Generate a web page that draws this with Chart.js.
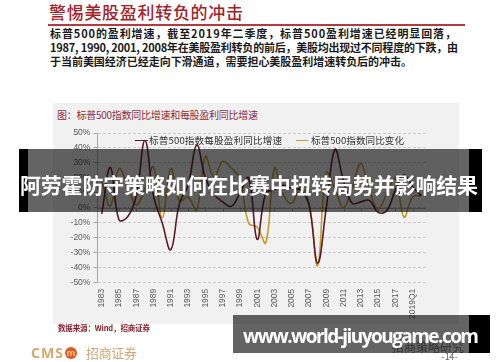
<!DOCTYPE html>
<html>
<head>
<meta charset="utf-8">
<script src="https://cdn.jsdelivr.net/npm/chart.js@4.4.0/dist/chart.umd.min.js"></script>
<style>
  body { margin: 0; background: #fff; }
  #page { position: relative; width: 500px; height: 362px; overflow: hidden; font-family: "Noto Sans CJK SC", sans-serif; }
  .abs { position: absolute; white-space: nowrap; }
  #panel { position: absolute; left: 53px; top: 103px; width: 406px; height: 221px; background: #f1f1f1; }
  #chart { position: absolute; left: 53px; top: 103px; width: 406px; height: 222px; }
  .body { font-size: 11px; font-weight: 700; color: #1a1a1a; line-height: 14px; }
  .leg { font-size: 9.6px; color: #333; line-height: 12px; }
  .band { position: absolute; background: rgba(12, 12, 12, 0.64); }
  .blk { position: absolute; background: #000; }
</style>
</head>
<body>
<div id="page">
  <!-- slide header -->
  <div class="abs" id="title" data-w="194" style="left:49px; top:0px; font-size:17px; line-height:24px; color:#a3232b; font-weight:500;">警惕美股盈利转负的冲击</div>
  <div class="abs" style="left:48px; top:23.5px; width:417px; height:2px; background:#b53a3f;"></div>
  <div class="abs body" data-w="406" style="left:50px; top:26px;">标普500的盈利增速，截至2019年二季度，标普500盈利增速已经明显回落，</div>
  <div class="abs body" data-w="408" style="left:50px; top:40px;">1987, 1990, 2001, 2008年在美股盈利转负的前后，美股均出现过不同程度的下跌，由</div>
  <div class="abs body" data-w="362" style="left:50px; top:54px;">于当前美国经济已经走向下滑通道，需要担心美股盈利增速转负后的冲击。</div>

  <!-- chart panel -->
  <div id="panel"></div>
  <div class="abs" data-w="201" style="left:57px; top:109px; font-size:10px; line-height:12px; color:#8e2d3a;">图：标普500指数同比增速和每股盈利同比增速</div>
  <canvas id="chart" width="406" height="222"></canvas>
  <div class="abs" style="left:135px; top:139.5px; width:13px; height:1.6px; background:#5a1a28;"></div>
  <div class="abs leg" data-w="133" style="left:149px; top:134px;">标普500指数每股盈利同比增速</div>
  <div class="abs" style="left:296px; top:139.5px; width:12px; height:1.6px; background:#c29a30;"></div>
  <div class="abs leg" data-w="93" style="left:311px; top:134px;">标普500指数同比变化</div>
  <div class="abs" data-w="92" style="left:58px; top:323px; font-size:7.5px; line-height:10px; font-weight:700; color:#8b1e2a;">数据来源：Wind，招商证券</div>

  <!-- footer -->
  <div class="abs" data-w="32" style="left:31px; top:344px; font-family:'Open Sans'; font-size:14px; line-height:17px; font-weight:700; color:#d9a86c;">CMS</div>
  <div class="abs" style="left:65px; top:346.5px; width:12px; height:12px; border-radius:50%; background:#e0582a; color:#f7c56e; font:700 9px/12px 'Open Sans'; text-align:center;">m</div>
  <div class="abs" data-w="51" style="left:86px; top:344px; font-size:13px; line-height:17px; color:#d4a673;">招商证券</div>
  <div class="abs" style="left:392px; top:340px; font-size:12px; line-height:14px; color:#777;">招商策略研究</div>
  <div class="abs" data-w="17" style="left:441px; top:351px; font-size:9px; line-height:12px; color:#666;">- 14 -</div>

  <!-- overlay banners -->
  <div class="band" style="left:28px; top:149px; width:441px; height:63px;"></div>
  <div class="blk" style="left:19px; top:149px; width:9px; height:63px;"></div>
  <div class="blk" style="left:469px; top:149px; width:13px; height:63px;"></div>
  <div class="abs" data-w="458" style="left:20px; top:169px; font-size:21px; line-height:30px; font-weight:700; color:#fff;">阿劳霍防守策略如何在比赛中扭转局势并影响结果</div>

  <div class="band" style="left:233px; top:315px; width:236px; height:38px;"></div>
  <div class="blk" style="left:469px; top:315px; width:21px; height:38px;"></div>
  <div class="abs" data-w="236" style="left:243px; top:323px; font-family:'Open Sans'; font-size:19px; line-height:26px; font-weight:700; color:#fff;">www.world-jiuyougame.com</div>
</div>

<script>
// periods on the x axis (annual, then 2019 quarters)
const periods = ['1983', '1984', '1985', '1986', '1987', '1988', '1989', '1990', '1991', '1992',
    '1993', '1994', '1995', '1996', '1997', '1998', '1999', '2000', '2001', '2002',
    '2003', '2004', '2005', '2006', '2007', '2008', '2009', '2010', '2011', '2012',
    '2013', '2014', '2015', '2016', '2017', '2018', '2019Q1', '2019Q2'];

// S&P 500 EPS yoy growth (%)
const epsGrowth = [-4, 27, -8, -6, 8, 45, 8, -10, -28, 3,
    15, 42, 20, 9, 4, 1, 10, 20, -21, 10,
    12, 15, 13, 12, 2, -37, 0, 39, 18, 3,
    4, 5, -3, -2, 12, 22, 14, 8];

// S&P 500 index yoy change (%)
const indexChange = [17.3, 1.4, 26.3, 14.6, 2.0, 12.4, 27.3, -6.6, 26.3, 4.5,
    7.1, -1.5, 34.1, 20.3, 31.0, 26.7, 19.5, -10.1, -13.0, -23.4,
    26.4, 9.0, 3.0, 13.6, 3.5, -38.5, 23.5, 12.8, 0.0, 13.4,
    29.6, 11.4, -0.7, 9.5, 19.4, -6.2, 7.3, 8.2];

const yTicks = { min: -50, max: 50, step: 10 };

// stretch text to the measured widths of the reference
document.querySelectorAll('[data-w]').forEach(el => {
    const target = parseFloat(el.dataset.w);
    const n = [...el.textContent].length;
    const w = el.getBoundingClientRect().width;
    if (n > 1) el.style.letterSpacing = ((target - w) / (n - 1)) + 'px';
});

// solid 0% axis with small ticks under every labelled year
const zeroLine = {
    id: 'zeroLine',
    beforeDatasetsDraw(chart) {
        const { ctx, chartArea, scales: { x, y } } = chart;
        const y0 = Math.round(y.getPixelForValue(0)) + 0.5;
        ctx.save();
        ctx.strokeStyle = '#a6a6a6';
        ctx.lineWidth = 1;
        ctx.beginPath();
        ctx.moveTo(chartArea.left, y0);
        ctx.lineTo(chartArea.right, y0);
        for (let i = 0; i < periods.length; i += 2) {
            const px = Math.round(x.getPixelForValue(i)) + 0.5;
            ctx.moveTo(px, y0);
            ctx.lineTo(px, y0 + 3);
        }
        ctx.stroke();
        ctx.restore();
    }
};

const tickFont = { family: 'Liberation Sans', size: 8.5 };

new Chart(document.getElementById('chart'), {
    type: 'line',
    data: {
        labels: periods,
        datasets: [
            { label: '标普500指数每股盈利同比增速', data: epsGrowth, borderColor: '#5a1a28', borderWidth: 1.6, tension: 0.4, pointRadius: 0, fill: false },
            { label: '标普500指数同比变化', data: indexChange, borderColor: '#c29a30', borderWidth: 1.6, tension: 0.4, pointRadius: 0, fill: false }
        ]
    },
    options: {
        responsive: false,
        animation: false,
        layout: { padding: { top: 30, right: 33.4, left: 0, bottom: 0 } },
        plugins: { legend: { display: false }, tooltip: { enabled: false } },
        scales: {
            x: {
                offset: true,
                grid: { display: false, drawTicks: false },
                border: { display: false },
                ticks: {
                    autoSkip: false, minRotation: 90, maxRotation: 90, padding: 6,
                    color: '#595959', font: tickFont,
                    callback: (v, i) => (i % 2 === 0 ? periods[i] : '')
                },
                afterFit: s => { s.height = 42.3; }
            },
            y: {
                min: yTicks.min, max: yTicks.max,
                ticks: { stepSize: yTicks.step, padding: 3, color: '#595959', font: tickFont, callback: v => v + '%' },
                grid: { color: '#cdcdcd', tickColor: '#a6a6a6', tickLength: 4, lineWidth: 1 },
                border: { color: '#a6a6a6', dash: [3, 2] },
                afterFit: s => { s.width = 44.4; }
            }
        }
    },
    plugins: [zeroLine]
});
</script>
</body>
</html>
